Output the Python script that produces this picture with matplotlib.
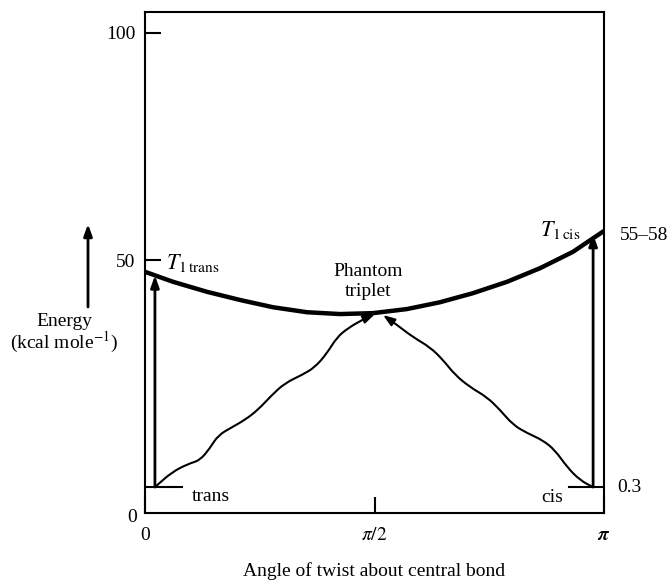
import matplotlib
matplotlib.use("Agg")
import matplotlib.pyplot as plt
from matplotlib.path import Path
from matplotlib.patches import PathPatch
import numpy as np

plt.rcParams['font.family'] = ['Liberation Serif', 'DejaVu Serif']
plt.rcParams['mathtext.fontset'] = 'stix'

# T1 curve (angle in radians, energy in kcal/mol)
t1_angle = [0.0, 0.192, 0.424, 0.650, 0.876, 1.109, 1.335, 1.560, 1.793,
            2.019, 2.245, 2.478, 2.704, 2.929, 3.1416]
t1_energy = [47.4, 45.2, 43.0, 41.2, 39.6, 38.5, 38.1, 38.3, 39.2,
             40.7, 42.7, 45.2, 48.2, 51.8, 56.4]

# wavy relaxation paths from the ground states to the phantom triplet
trans_path_x = [0.068, 0.082, 0.185, 0.294, 0.376, 0.445, 0.500, 0.596, 0.684,
                0.773, 0.869, 0.958, 1.075, 1.164, 1.246, 1.314, 1.390, 1.485, 1.574]
trans_path_y = [0.0, 0.4, 3.3, 5.1, 5.9, 8.6, 11.4, 13.2, 14.8,
                17.0, 20.3, 22.9, 24.7, 26.4, 29.5, 33.0, 35.0, 36.8, 38.1]
cis_path_x = [3.067, 2.978, 2.889, 2.807, 2.724, 2.615, 2.519, 2.430,
              2.341, 2.225, 2.122, 2.040, 1.951, 1.835, 1.725, 1.629]
cis_path_y = [0.0, 1.5, 4.4, 8.1, 10.3, 11.9, 13.7, 17.0,
              19.8, 22.0, 24.7, 28.0, 30.8, 33.0, 35.7, 37.9]

# vertical excitations (angle, ground energy, T1 energy)
trans_exc = (0.068, 0.0, 46.6)
cis_exc = (3.067, 0.0, 55.7)

head = '-|>,head_length=0.7,head_width=0.25'

fig = plt.figure(figsize=(6.71, 5.81), dpi=100)
ax = fig.add_axes([145 / 671, 68 / 581, 459 / 671, 501 / 581])
ax.set_xlim(0, np.pi)
ax.set_ylim(-5.7, 104.6)
for s in ax.spines.values():
    s.set_linewidth(1.5)

ax.set_xticks([0, np.pi / 2, np.pi])
ax.set_xticklabels(['0', r'$\pi/2$', r'$\boldsymbol{\pi}$'])
ax.set_yticks([50, 100])
ax.set_yticklabels(['50', '100'])
ax.tick_params(axis='both', direction='in', length=11.5, width=1.5, labelsize=14)
ax.tick_params(axis='x', pad=10)
ax.tick_params(axis='y', pad=7)
ax.set_xlabel('Angle of twist about central bond', fontsize=14, labelpad=13)

# T1 curve
ax.plot(t1_angle, t1_energy, color='black', lw=3.2, solid_capstyle='butt')

# ground state levels
ax.plot([0, 0.253], [0, 0], color='black', lw=1.5)
ax.plot([2.902, np.pi], [0, 0], color='black', lw=1.5)

# vertical excitation arrows
for x, y0, y1 in [trans_exc, cis_exc]:
    ax.annotate('', xy=(x, y1), xytext=(x, y0),
                arrowprops=dict(arrowstyle=head, color='black', lw=2,
                                shrinkA=0, shrinkB=0))

# wavy paths, drawn as smooth quadratic curves through the read points
for px, py in [(trans_path_x, trans_path_y), (cis_path_x, cis_path_y)]:
    pts = np.column_stack([px, py])
    mids = (pts[:-1] + pts[1:]) / 2
    verts = [pts[0], mids[0]]
    codes = [Path.MOVETO, Path.LINETO]
    for i in range(1, len(pts) - 1):
        verts += [pts[i], mids[i]]
        codes += [Path.CURVE3, Path.CURVE3]
    ax.add_patch(PathPatch(Path(verts, codes), fill=False, color='black', lw=1.5))
    ax.annotate('', xy=tuple(pts[-1]), xytext=tuple(mids[-1]),
                arrowprops=dict(arrowstyle=head, color='black', lw=1.5,
                                shrinkA=0, shrinkB=0))

# labels
ax.text(0.144, 49.3, r'$T_{1\,\mathrm{trans}}$', fontsize=16, ha='left', va='center')
ax.text(2.84, 56.6, r'$T_{1\,\mathrm{cis}}$', fontsize=16, ha='center', va='center')
ax.text(1.526, 47.4, 'Phantom', fontsize=14, ha='center', va='center')
ax.text(1.526, 43.0, 'triplet', fontsize=14, ha='center', va='center')
ax.text(0.322, -2.0, 'trans', fontsize=14, ha='left', va='center')
ax.text(2.786, -2.2, 'cis', fontsize=14, ha='center', va='center')
ax.text(3.251, 55.5, '55\u201358', fontsize=14, ha='left', va='center', clip_on=False)
ax.text(3.231, 0.0, '0.3', fontsize=14, ha='left', va='center', clip_on=False)
ax.text(-0.089, -6.6, '0', fontsize=14, ha='center', va='center', clip_on=False)

# energy axis label with arrow on the left
fig.text(64 / 671, 1 - 322 / 581, 'Energy', fontsize=14, ha='center', va='center')
fig.text(64 / 671, 1 - 342 / 581, r'(kcal mole$^{-1}$)', fontsize=14, ha='center', va='center')
ax.annotate('', xy=(88, 581 - 224), xytext=(88, 581 - 307),
            xycoords='figure pixels', textcoords='figure pixels',
            arrowprops=dict(arrowstyle=head, color='black', lw=2,
                            shrinkA=0, shrinkB=0))

fig.savefig('out.png', dpi=100)
